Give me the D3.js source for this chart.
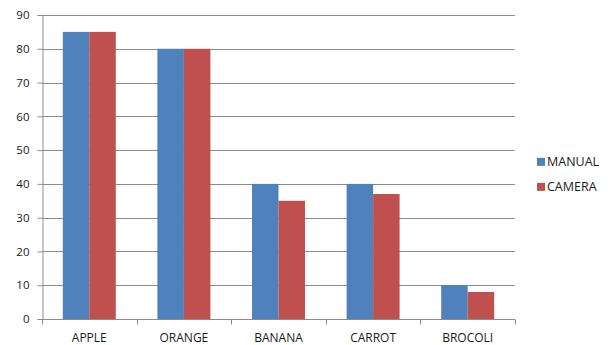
<!DOCTYPE html>
<html>
<head>
<meta charset="utf-8">
<script src="https://cdn.jsdelivr.net/npm/d3@7"></script>
<style>
  body { margin: 0; background: #fff; }
  text { font-family: "Open Sans", "Liberation Sans", sans-serif; fill: #1a1a1a; }
</style>
</head>
<body>
<div class="chart"></div>
<script>
// data
const categories = ["APPLE", "ORANGE", "BANANA", "CARROT", "BROCOLI"];
const seriesNames = ["MANUAL", "CAMERA"];
const manual = [85, 80, 40, 40, 10];
const camera = [85, 80, 35, 37, 8];
const yTicks = [0, 10, 20, 30, 40, 50, 60, 70, 80, 90];
const colors = ["#4F81BD", "#C0504D"];

const W = 611, H = 345;
const margin = {top: 15, right: 96, bottom: 26, left: 42};
const width = W - margin.left - margin.right;
const height = H - margin.top - margin.bottom;

const svg = d3.select(".chart").append("svg")
    .attr("width", W)
    .attr("height", H)
  .append("g")
    .attr("transform", `translate(${margin.left},${margin.top})`);

const x0 = d3.scaleBand()
    .domain(categories)
    .range([0, width])
    .paddingInner(0)
    .paddingOuter(0);

const x1 = d3.scaleBand()
    .domain(seriesNames)
    .range([0, x0.bandwidth() * 0.56]);
const groupOffset = x0.bandwidth() * 0.22;

const y = d3.scaleLinear()
    .domain([0, 90])
    .range([height, 0]);

// gridlines
svg.append("g")
  .selectAll("line")
  .data(yTicks.filter(d => d > 0))
  .join("line")
    .attr("x1", 0)
    .attr("x2", width)
    .attr("y1", d => Math.round(y(d)) + 0.5)
    .attr("y2", d => Math.round(y(d)) + 0.5)
    .attr("stroke", "#8c8c8c")
    .attr("stroke-width", 1);

// bars
const rows = categories.map((c, i) => ({cat: c, values: [manual[i], camera[i]]}));
svg.append("g")
  .selectAll("g")
  .data(rows)
  .join("g")
    .attr("transform", d => `translate(${x0(d.cat) + groupOffset},0)`)
  .selectAll("rect")
  .data(d => d.values.map((v, j) => ({name: seriesNames[j], value: v, j: j})))
  .join("rect")
    .attr("x", d => x1(d.name))
    .attr("y", d => y(d.value))
    .attr("width", x1.bandwidth())
    .attr("height", d => height - y(d.value))
    .attr("fill", d => colors[d.j]);

// y axis
const yAxis = d3.axisLeft(y).tickValues(yTicks).tickSize(5).tickPadding(8);
const yg = svg.append("g").attr("transform", "translate(0.5,0)").call(yAxis);
yg.select(".domain").attr("stroke", "#8c8c8c");
yg.selectAll(".tick line").attr("stroke", "#8c8c8c");
yg.selectAll(".tick text")
    .attr("font-size", 11.5)
    .attr("font-family", "Open Sans, sans-serif")
    .attr("fill", "#1a1a1a");

// x axis: tick marks at category boundaries
const xg = svg.append("g").attr("transform", `translate(0,${height + 0.5})`);
xg.append("line")
    .attr("x1", 0).attr("x2", width)
    .attr("stroke", "#8c8c8c");
xg.selectAll("line.tk")
  .data(categories.concat(["end"]))
  .join("line")
    .attr("class", "tk")
    .attr("x1", (d, i) => Math.round(i * x0.step()) + 0.5)
    .attr("x2", (d, i) => Math.round(i * x0.step()) + 0.5)
    .attr("y1", 0).attr("y2", 5)
    .attr("stroke", "#8c8c8c");
xg.selectAll("text")
  .data(categories)
  .join("text")
    .attr("x", d => x0(d) + x0.bandwidth() / 2)
    .attr("y", 22)
    .attr("text-anchor", "middle")
    .attr("font-size", 12)
    .text(d => d);

// legend
const legend = svg.append("g")
    .attr("transform", `translate(${width + 22},${height * 0.47})`);
const li = legend.selectAll("g")
  .data(seriesNames)
  .join("g")
    .attr("transform", (d, i) => `translate(0,${i * 25})`);
li.append("rect")
    .attr("width", 8).attr("height", 8)
    .attr("y", 0)
    .attr("fill", (d, i) => colors[i]);
li.append("text")
    .attr("x", 10)
    .attr("y", 8.5)
    .attr("font-size", 12.5)
    .text(d => d);
</script>
</body>
</html>
